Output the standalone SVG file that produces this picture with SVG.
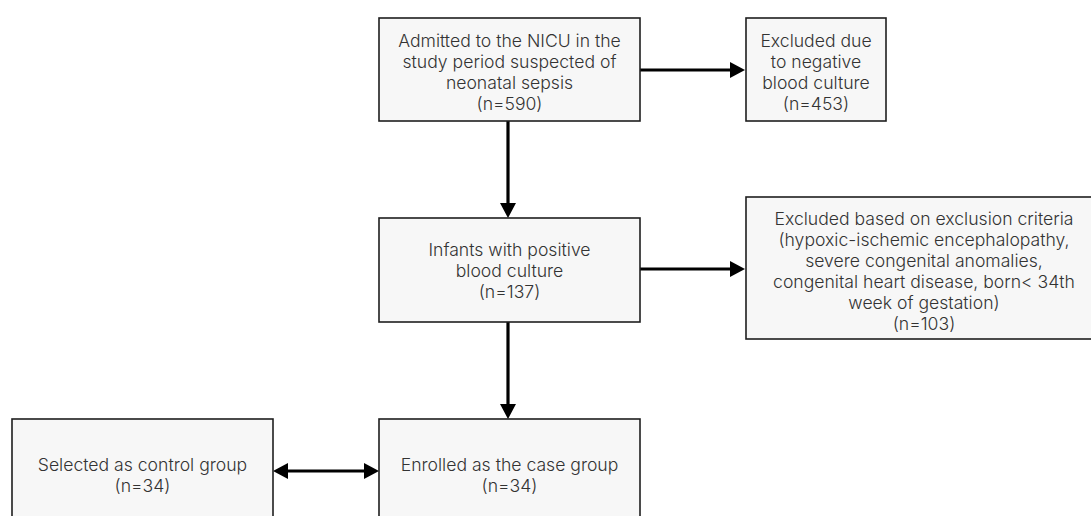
<svg xmlns="http://www.w3.org/2000/svg" width="1091" height="516" viewBox="0 0 1091 516">
<style>
.box{fill:#f7f7f7;stroke:#1e1e1e;stroke-width:1.6}
.t{font-family:Inter,"Noto Sans","Liberation Sans",sans-serif;font-size:17.6px;font-weight:300;fill:#333;text-anchor:middle}
.c{stroke:#000;stroke-width:3.2;fill:none}
</style>
<defs>
<marker id="ah" viewBox="0 0 15 16" refX="3" refY="8" markerWidth="15" markerHeight="16" markerUnits="userSpaceOnUse" orient="auto-start-reverse">
<path d="M0,0 L15,8 L0,16 z" fill="#000"/>
</marker>
</defs>
<rect width="1091" height="516" fill="#fff"/>
<g id="connectors">
<line class="c" x1="640" y1="70" x2="733" y2="70" marker-end="url(#ah)"/>
<line class="c" x1="508" y1="121" x2="508" y2="206" marker-end="url(#ah)"/>
<line class="c" x1="640" y1="269" x2="733" y2="269" marker-end="url(#ah)"/>
<line class="c" x1="508" y1="322" x2="508" y2="407" marker-end="url(#ah)"/>
<line class="c" x1="285" y1="471" x2="367" y2="471" marker-start="url(#ah)" marker-end="url(#ah)"/>
</g>
<g id="admitted">
<rect class="box" x="379" y="18" width="261" height="103"/>
<text class="t" x="509.5" y="47">Admitted to the NICU in the</text>
<text class="t" x="509.5" y="68">study period suspected of</text>
<text class="t" x="509.5" y="89">neonatal sepsis</text>
<text class="t" x="509.5" y="110">(n=590)</text>
</g>
<g id="excluded-negative">
<rect class="box" x="746" y="18" width="140" height="103"/>
<text class="t" x="816" y="47">Excluded due</text>
<text class="t" x="816" y="68">to negative</text>
<text class="t" x="816" y="89">blood culture</text>
<text class="t" x="816" y="110">(n=453)</text>
</g>
<g id="infants-positive">
<rect class="box" x="379" y="218" width="261" height="104"/>
<text class="t" x="509.5" y="256">Infants with positive</text>
<text class="t" x="509.5" y="277">blood culture</text>
<text class="t" x="509.5" y="298">(n=137)</text>
</g>
<g id="excluded-criteria">
<rect class="box" x="746" y="197" width="356" height="142"/>
<text class="t" x="924" y="225">Excluded based on exclusion criteria</text>
<text class="t" x="924" y="246">(hypoxic-ischemic encephalopathy,</text>
<text class="t" x="924" y="267">severe congenital anomalies,</text>
<text class="t" x="924" y="288">congenital heart disease, born&lt; 34th</text>
<text class="t" x="924" y="309">week of gestation)</text>
<text class="t" x="924" y="330">(n=103)</text>
</g>
<g id="control-group">
<rect class="box" x="12" y="419" width="261" height="114"/>
<text class="t" x="142.5" y="471">Selected as control group</text>
<text class="t" x="142.5" y="492">(n=34)</text>
</g>
<g id="case-group">
<rect class="box" x="379" y="419" width="261" height="114"/>
<text class="t" x="509.5" y="471">Enrolled as the case group</text>
<text class="t" x="509.5" y="492">(n=34)</text>
</g>
</svg>
